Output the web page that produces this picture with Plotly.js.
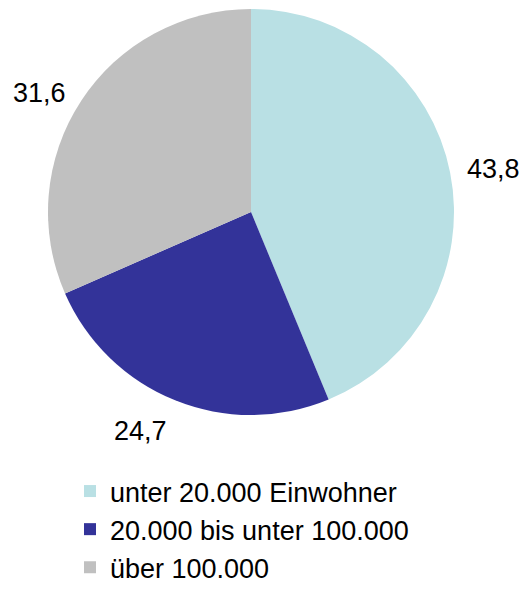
<!DOCTYPE html>
<html>
<head>
<meta charset="utf-8">
<script src="https://cdn.plot.ly/plotly-3.0.1.min.js"></script>
<style>html,body{margin:0;padding:0;background:#fff;}#chart{width:525px;height:592px;}</style>
</head>
<body>
<div id="chart"></div>
<script>
const categories = ["unter 20.000 Einwohner", "20.000 bis unter 100.000", "über 100.000"];
const values = [43.8, 24.7, 31.6];
const valueLabels = ["43,8", "24,7", "31,6"];
const colors = ["#b9e0e4", "#333399", "#c0c0c0"];

const W = 525, H = 592;
const cx = 251, cy = 212, R = 203;
const dom = {x: [(cx - R) / W, (cx + R) / W], y: [1 - (cy + R) / H, 1 - (cy - R) / H]};
const FONT = 'Liberation Sans, Arial, Helvetica, sans-serif';

// label positions computed from slice mid-angles (outside end)
const total = values.reduce((a, b) => a + b, 0);
let acc = 0;
const annotations = values.map((v, i) => {
  const mid = (acc + v / 2) / total * 2 * Math.PI;
  acc += v;
  const s = Math.sin(mid), c = Math.cos(mid);
  const r = R * 1.075;
  const px = cx + r * s;
  const py = cy - r * c;
  return {x: px / W, y: 1 - py / H, xref: 'paper', yref: 'paper', text: valueLabels[i],
    showarrow: false,
    xanchor: s > 0 ? 'left' : 'right',
    yanchor: Math.abs(c) < 0.6 ? 'middle' : (c > 0 ? 'bottom' : 'top'),
    font: {family: FONT, size: 27, color: '#000'}};
});

const data = [{
  type: 'pie',
  labels: categories,
  values: values,
  sort: false,
  direction: 'clockwise',
  rotation: 0,
  marker: {colors: colors, line: {width: 0}},
  textinfo: 'none',
  hoverinfo: 'none',
  domain: dom
}];

const layout = {
  width: W, height: H,
  margin: {l: 0, r: 0, t: 0, b: 0},
  paper_bgcolor: '#fff',
  showlegend: true,
  legend: {
    x: 70 / W, y: 0, xanchor: 'left', yanchor: 'bottom',
    orientation: 'v',
    font: {family: FONT, size: 27, color: '#000'},
    bgcolor: 'rgba(0,0,0,0)'
  },
  annotations: annotations
};

Plotly.newPlot('chart', data, layout, {displayModeBar: false, staticPlot: true});
</script>
</body>
</html>
